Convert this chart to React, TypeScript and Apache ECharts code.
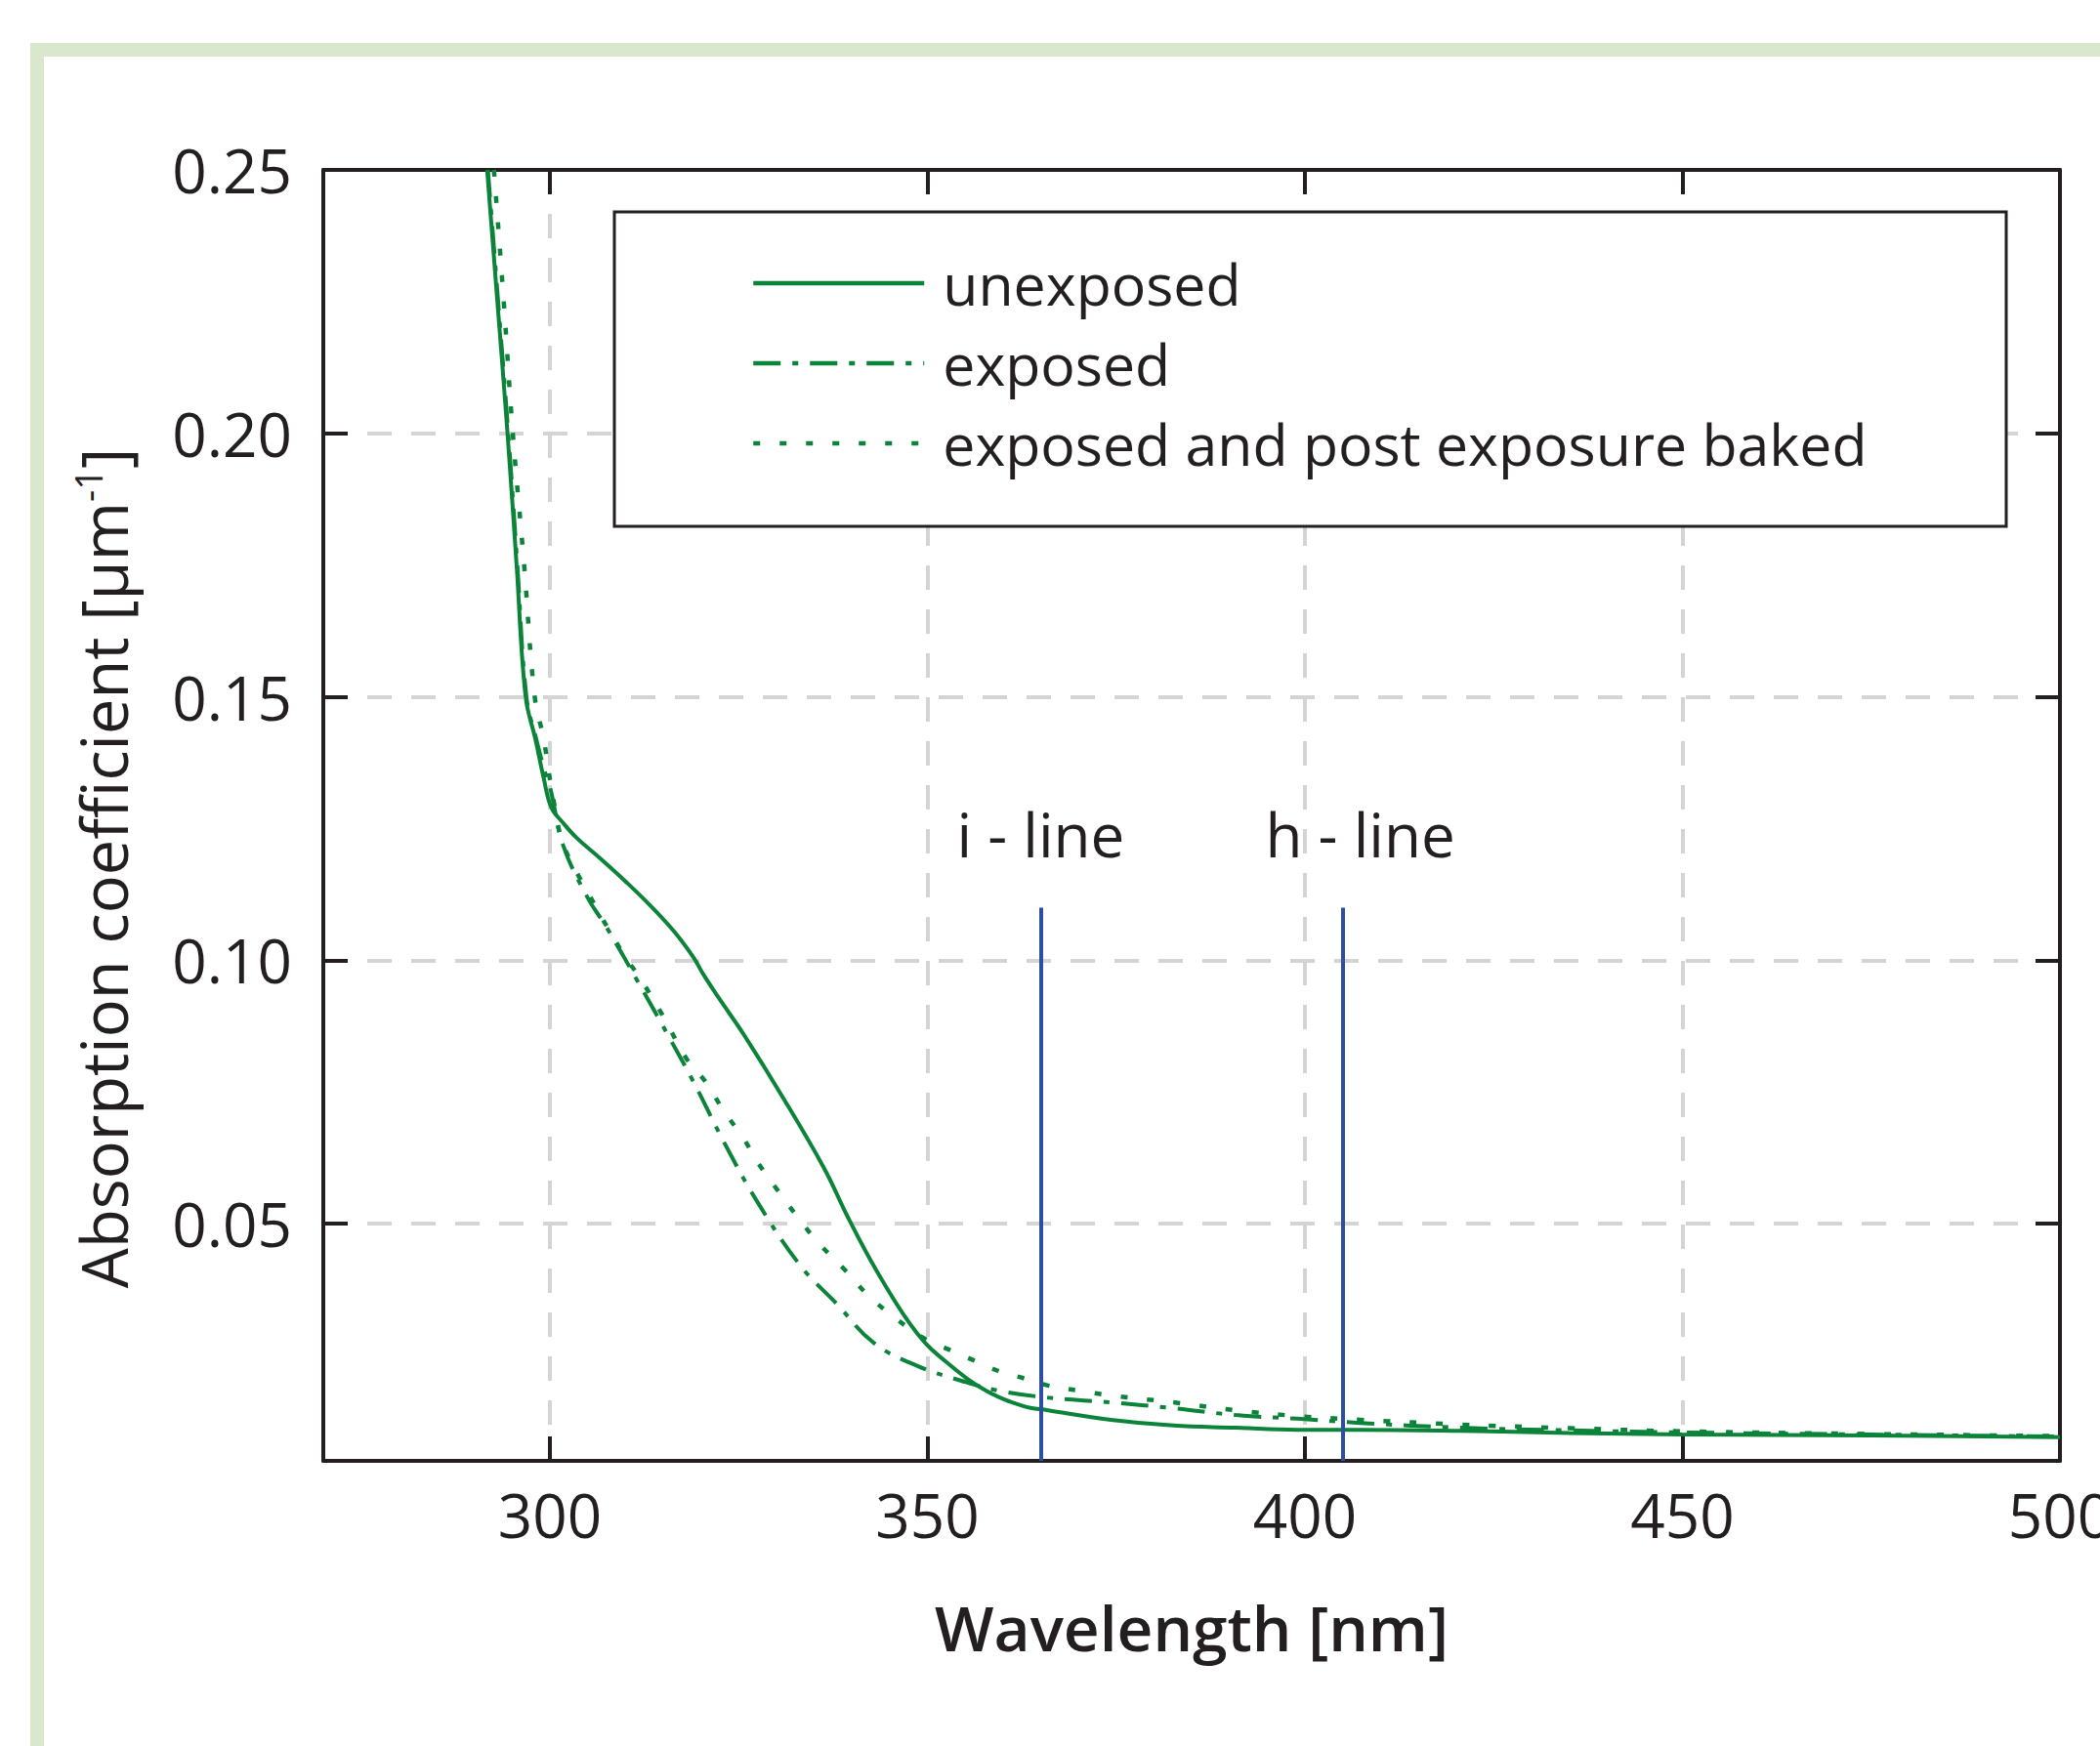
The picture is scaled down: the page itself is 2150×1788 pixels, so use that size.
import React, { useEffect, useRef } from "react";
import * as echarts from "echarts";

// ---- data (wavelength in nm, absorption coefficient in 1/µm) ----
const unexposedNm = [291.7, 293.0, 294.4, 295.6, 296.8, 298.1, 299.2, 300.2, 301.8, 303.5, 306.7, 310.0, 313.3, 316.5, 319.0, 320.3, 322.4, 325.6, 330.6, 336.3, 339.7, 343.8, 348.7, 352.9, 357.8, 362.7, 366.0, 374.3, 382.6, 390.8, 399.0, 407.3, 420.5, 435, 450, 475, 500];
const unexposedVal = [0.25, 0.226, 0.2, 0.175, 0.15, 0.1419, 0.1345, 0.129, 0.126, 0.1233, 0.1193, 0.115, 0.1104, 0.1054, 0.1006, 0.0974, 0.0928, 0.0861, 0.0746, 0.0606, 0.0506, 0.0398, 0.0291, 0.0233, 0.0183, 0.0154, 0.0146, 0.0128, 0.0117, 0.0113, 0.0109, 0.0109, 0.0107, 0.0103, 0.01, 0.0098, 0.0095];

const exposedNm = [291.8, 293.1, 294.5, 295.7, 296.9, 298.2, 299.3, 300.1, 301.8, 305.0, 307.5, 311.6, 315.8, 319.0, 323.1, 327.3, 333.1, 338.0, 342.9, 348.7, 354.5, 359.5, 366.0, 374.3, 382.6, 390.8, 399.0, 407.3, 420.5, 435, 450, 475, 500];
const exposedVal = [0.25, 0.226, 0.2, 0.175, 0.15, 0.142, 0.136, 0.1324, 0.1217, 0.1119, 0.1063, 0.0961, 0.0854, 0.077, 0.0654, 0.0546, 0.0422, 0.0348, 0.0274, 0.023, 0.0202, 0.0183, 0.017, 0.0161, 0.015, 0.0137, 0.013, 0.0122, 0.0113, 0.0108, 0.0104, 0.01, 0.0096];

const bakedNm = [292.6, 293.9, 295.1, 296.6, 298.0, 299.2, 300.3, 301.8, 305.0, 309.6, 312.0, 315.0, 318.2, 320.6, 323.1, 325.6, 327.7, 330.2, 332.7, 335.5, 338.9, 342.1, 345.5, 349.5, 352.9, 356.1, 359.5, 362.7, 366.0, 370.2, 374.3, 382.6, 390.8, 399.0, 407.3, 420.5, 435, 450, 475, 500];
const bakedVal = [0.25, 0.225, 0.2, 0.175, 0.15, 0.1419, 0.132, 0.122, 0.113, 0.1015, 0.0965, 0.0894, 0.0811, 0.077, 0.0713, 0.0663, 0.0613, 0.0563, 0.0515, 0.0465, 0.0415, 0.0365, 0.0324, 0.0283, 0.0261, 0.0241, 0.022, 0.0207, 0.0193, 0.0183, 0.0174, 0.0161, 0.0146, 0.0135, 0.0128, 0.0119, 0.0112, 0.0106, 0.0101, 0.0097];

const seriesNames = ["unexposed", "exposed", "exposed and post exposure baked"];
const markerNames = ["i - line", "h - line"];
const markerNm = [365, 405];
const markerTop = 0.11;

const xMin = 270;
const xMax = 500;
const yMin = 0.005;
const yMax = 0.25;

const FONT = "'Open Sans', 'Noto Sans', sans-serif";
const GREEN = "#0b843a";
const BLUE = "#2c4ea3";
const INK = "#231f20";

const zip = (a: number[], b: number[]) => a.map((v, i) => [v, b[i]]);

export default function App() {
  const ref = useRef<HTMLDivElement>(null);
  useEffect(() => {
    const chart = echarts.init(ref.current!, null, { renderer: "svg" });
    const axisLine = { show: true, lineStyle: { color: INK, width: 4 } };
    const axisTick = { show: true, inside: true, length: 25, lineStyle: { color: INK, width: 4 } };
    const splitLine = { show: true, lineStyle: { color: "#d4d4d4", width: 4, type: [25, 20] } };
    const markerLabelOffsets = [[0, 0], [18, 0]];
    const option: any = {
      animation: false,
      backgroundColor: "#ffffff",
      grid: { left: 331, top: 174, width: 1778, height: 1322, containLabel: false, outerBoundsMode: "none" },
      xAxis: [
        {
          type: "value",
          min: xMin,
          max: xMax,
          position: "bottom",
          axisLine,
          axisTick,
          splitLine,
          axisLabel: { fontSize: 62, color: INK, fontFamily: FONT, margin: 24, showMinLabel: false, showMaxLabel: true },
          name: "Wavelength [nm]",
          nameLocation: "middle",
          nameGap: 138,
          nameTextStyle: { fontSize: 64, fontWeight: 600, color: INK, fontFamily: FONT },
        },
        {
          type: "value",
          min: xMin,
          max: xMax,
          position: "top",
          axisLine,
          axisTick,
          splitLine: { show: false },
          axisLabel: { show: false },
        },
      ],
      yAxis: [
        {
          type: "value",
          min: yMin,
          max: yMax,
          position: "left",
          axisLine,
          axisTick,
          splitLine,
          axisLabel: {
            fontSize: 62,
            color: INK,
            fontFamily: FONT,
            margin: 32,
            showMinLabel: false,
            showMaxLabel: true,
            formatter: (v: number) => v.toFixed(2),
          },
        },
        {
          type: "value",
          min: yMin,
          max: yMax,
          position: "right",
          axisLine,
          axisTick,
          splitLine: { show: false },
          axisLabel: { show: false },
        },
      ],
      legend: {
        show: true,
        orient: "vertical",
        left: 764,
        top: 255,
        itemWidth: 175,
        itemHeight: 20,
        itemGap: 22,
        z: 6,
        itemStyle: { opacity: 0 },
        lineStyle: { width: 4.5 },
        textStyle: { fontSize: 59, color: INK, fontFamily: FONT, lineHeight: 60, padding: [0, 0, 0, 14] },
        data: seriesNames,
      },
      graphic: [
        {
          type: "rect",
          z: -1,
          silent: true,
          shape: { x: 38, y: 51, width: 3000, height: 3000 },
          style: { fill: "none", stroke: "#d9e8cc", lineWidth: 14 },
        },
        {
          type: "rect",
          z: 3,
          silent: true,
          shape: { x: 629, y: 217, width: 1425, height: 322 },
          style: { fill: "#ffffff", stroke: INK, lineWidth: 3 },
        },
        {
          type: "text",
          x: 106,
          y: 889,
          rotation: Math.PI / 2,
          silent: true,
          style: {
            text: "{a|Absorption coefficient [µm}{s|-1}{a|]}",
            align: "center",
            verticalAlign: "middle",
            fill: INK,
            rich: {
              a: { fontSize: 65, fontFamily: FONT, fill: INK, color: INK, lineHeight: 70 },
              s: { fontSize: 38, fontFamily: FONT, fill: INK, color: INK, verticalAlign: "top", lineHeight: 42 },
            },
          },
        },
      ],
      series: [
        {
          name: seriesNames[0],
          type: "line",
          data: zip(unexposedNm, unexposedVal),
          symbol: "none",
          smooth: 0.4,
          lineStyle: { color: GREEN, width: 4, type: "solid" },
          itemStyle: { color: GREEN },
          z: 4,
          markLine: {
            silent: true,
            symbol: "none",
            lineStyle: { color: BLUE, width: 4, type: "solid" },
            label: {
              show: true,
              position: "end",
              formatter: "{b}",
              fontSize: 62,
              color: INK,
              fontFamily: FONT,
              distance: 44,
            },
            data: markerNm.map((nm, i) => [
              { name: markerNames[i], coord: [nm, yMin], label: { offset: markerLabelOffsets[i] } },
              { coord: [nm, markerTop] },
            ]),
          },
        },
        {
          name: seriesNames[1],
          type: "line",
          data: zip(exposedNm, exposedVal),
          symbol: "none",
          smooth: 0.4,
          lineStyle: { color: GREEN, width: 4, type: [28, 12, 6, 12] },
          itemStyle: { color: GREEN },
          z: 4,
        },
        {
          name: seriesNames[2],
          type: "line",
          data: zip(bakedNm, bakedVal),
          symbol: "none",
          smooth: 0.4,
          lineStyle: { color: GREEN, width: 4.5, type: [7, 20] },
          itemStyle: { color: GREEN },
          z: 4,
        },
      ],
    };
    chart.setOption(option);
    return () => chart.dispose();
  }, []);
  return (
    <div
      ref={ref}
      style={{ position: "fixed", left: 0, top: 0, width: 2150, height: 1788, background: "#ffffff" }}
    />
  );
}
